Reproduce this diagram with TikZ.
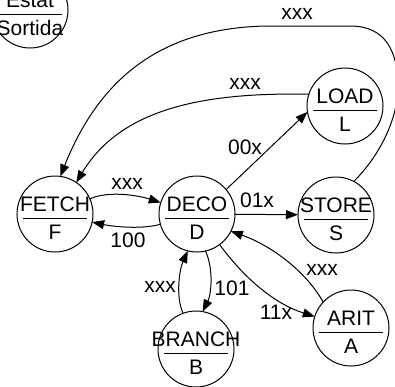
\documentclass[tikz,border=0pt]{standalone}
\usepackage{fontspec}
\setmainfont{Liberation Sans}
\usetikzlibrary{arrows.meta,calc}
\tikzset{
  st/.style={circle, draw, line width=1pt, minimum size=76pt, inner sep=0pt, outer sep=0pt},
  txt/.style={font=\fontsize{21}{25}\selectfont, inner sep=0pt},
  edge/.style={line width=1pt, -{Triangle[length=12pt,width=9pt]}},
  elabel/.style={font=\fontsize{21}{25}\selectfont, inner sep=0pt},
}
\newcommand\statenode[5]{%
  \node[st] (#1) at (#2) {};
  \draw[line width=1pt] ($(#1.center)+(-32,4)$) -- ($(#1.center)+(32,4)$);
  \node[txt, anchor=base] (#1top) at ($(#1.center)+(0,-3)$) {#3};
  \node[txt, anchor=base] (#1bot) at ($(#1.center)+(0,25)$) {#4};
}
\begin{document}
\begin{tikzpicture}[x=1pt,y=-1pt]
\useasboundingbox (0,0) rectangle (395,386);
\statenode{ES}{30,10}{Estat}{Sortida}{}
\statenode{F}{55,214}{FETCH}{F}{}
\statenode{D}{197,214}{DECO}{D}{}
\statenode{L}{345,106}{LOAD}{L}{}
\statenode{S}{336,215}{STORE}{S}{}
\statenode{A}{351,328}{ARIT}{A}{}
\statenode{B}{196,349}{BRANCH}{B}{}

% FETCH -> DECO
\draw[edge] (F) .. controls (110,190) and (140,196) .. (D);
\node[elabel] (l1) at (127,184) {xxx};
% DECO -> FETCH
\draw[edge] (D) .. controls (140,230) and (110,226) .. (F);
\node[elabel] (l2) at (128,240) {100};
% DECO -> LOAD
\draw[edge] (D.40) -- (L.189);
\node[elabel] (l3) at (245,147) {00x};
% DECO -> STORE
\draw[edge] (D) -- (S);
\node[elabel] (l4) at (257,200) {01x};
% DECO -> ARIT
\draw[edge] (D) .. controls (242,275) and (272,303) .. (A);
\node[elabel] (l5) at (276,312) {11x};
% ARIT -> DECO
\draw[edge] (A.137) .. controls (305,270) and (270,245) .. (D.333);
\node[elabel] (l6) at (322,270) {xxx};
% DECO -> BRANCH
\draw[edge] (D.283) .. controls (214,270) and (211,295) .. (B.80);
\node[elabel] (l7) at (232,288) {101};
% BRANCH -> DECO
\draw[edge] (B.110) .. controls (175,295) and (180,268) .. (D.256);
\node[elabel] (l8) at (160,287) {xxx};
% LOAD -> FETCH
\draw[edge] (L.162) .. controls (200,92) and (120,110) .. (F.56);
\node[elabel] (l9) at (245,84) {xxx};
% STORE -> FETCH
\draw[edge] (S.62) .. controls (385,150) and (400,110) .. (398,80)
  .. controls (396,50) and (385,26) .. (350,26)
  -- (267,26) .. controls (150,28) and (95,90) .. (F.82);
\node[elabel] (l10) at (297,14) {xxx};
\end{tikzpicture}
\end{document}
